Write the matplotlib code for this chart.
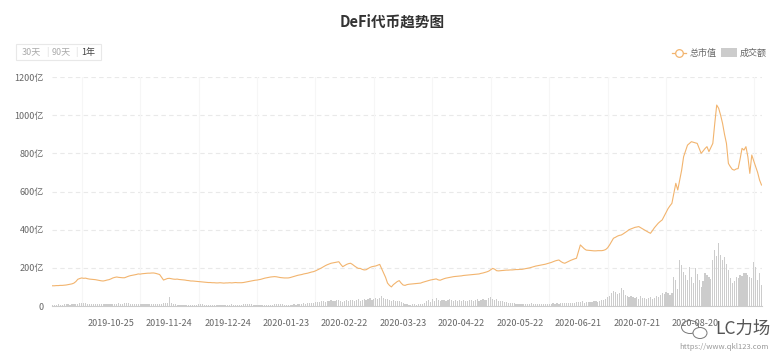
import numpy as np
import pandas as pd
import matplotlib
matplotlib.use("Agg")
import matplotlib.pyplot as plt
from matplotlib.lines import Line2D
from matplotlib.patches import Rectangle, FancyBboxPatch, Ellipse

plt.rcParams['font.family'] = ['Noto Sans CJK SC', 'DejaVu Sans']

# ---- data (亿) ----
start_date = "2019-09-25"

market_cap = [
    106, 106, 107, 107, 108, 108, 109, 110, 112, 114, 116, 120, 128, 140, 144,
    147, 145, 146, 143, 141, 140, 139, 138, 136, 134, 132, 131, 133, 136, 138,
    142, 147, 150, 152, 150, 149, 148, 148, 152, 156, 159, 161, 163, 165, 168,
    167, 169, 170, 171, 172, 172, 173, 173, 171, 168, 165, 150, 136, 140, 144,
    145, 143, 141, 140, 141, 139, 138, 137, 136, 134, 133, 131, 131, 130, 129,
    128, 127, 126, 125, 124, 123, 123, 122, 122, 121, 121, 122, 121, 120, 121,
    121, 122, 121, 122, 123, 122, 122, 122, 123, 125, 127, 129, 131, 133, 135,
    136, 138, 140, 143, 146, 148, 150, 152, 153, 154, 153, 151, 149, 148, 147,
    147, 147, 149, 152, 155, 158, 161, 163, 165, 168, 170, 172, 175, 178, 180,
    184, 189, 194, 199, 205, 211, 216, 220, 224, 226, 228, 230, 232, 218, 206,
    212, 218, 222, 224, 218, 210, 203, 197, 197, 192, 189, 190, 196, 202, 206,
    208, 210, 214, 218, 195, 172, 150, 120, 108, 100, 112, 120, 128, 133, 120,
    110, 108, 112, 114, 115, 116, 117, 118, 119, 120, 124, 127, 130, 133, 136,
    138, 140, 142, 137, 135, 139, 143, 146, 148, 150, 152, 154, 155, 156, 157,
    158, 160, 161, 162, 163, 164, 165, 166, 167, 168, 171, 173, 176, 179, 183,
    190, 197, 193, 185, 184, 185, 186, 187, 188, 188, 189, 189, 190, 191, 191,
    192, 192, 194, 196, 198, 200, 203, 206, 209, 211, 213, 215, 217, 219, 222,
    225, 228, 232, 236, 239, 241, 233, 227, 224, 229, 234, 239, 243, 247, 250,
    285, 320, 310, 300, 293, 292, 291, 290, 289, 289, 290, 290, 290, 292, 296,
    305, 320, 338, 355, 360, 366, 370, 372, 378, 385, 392, 400, 404, 408, 412,
    414, 416, 410, 404, 398, 392, 386, 381, 395, 410, 422, 434, 443, 451, 470,
    490, 510, 525, 538, 590, 643, 608, 660, 712, 782, 812, 843, 852, 861, 858,
    855, 852, 826, 800, 812, 825, 835, 809, 830, 852, 957, 1053, 1036, 1000, 957,
    900, 852, 747, 730, 716, 712, 718, 720, 770, 826, 817, 835, 782, 695, 791,
    760, 730, 700, 660, 634,
]

volume = [
    6, 7, 6, 8, 7, 6, 8, 9, 8, 7, 8, 9, 10, 12, 14,
    16, 18, 15, 13, 12, 10, 9, 8, 9, 10, 8, 9, 10, 11, 12,
    10, 9, 11, 12, 14, 13, 12, 15, 18, 14, 12, 11, 10, 12, 11,
    10, 9, 11, 10, 12, 11, 10, 9, 11, 12, 13, 12, 14, 16, 18,
    48, 14, 9, 8, 7, 6, 7, 6, 5, 6, 7, 6, 5, 6, 7,
    8, 9, 8, 7, 6, 6, 5, 5, 6, 5, 6, 7, 6, 5, 6,
    6, 7, 8, 7, 6, 5, 6, 7, 8, 9, 10, 9, 8, 7, 6,
    7, 6, 5, 6, 7, 6, 5, 6, 7, 8, 9, 10, 9, 8, 7,
    6, 5, 6, 7, 8, 7, 9, 10, 12, 14, 13, 15, 17, 16, 18,
    20, 22, 19, 24, 26, 21, 28, 25, 30, 27, 24, 29, 32, 28, 22,
    26, 30, 27, 33, 29, 25, 31, 35, 28, 34, 38, 30, 36, 42, 33,
    38, 44, 36, 40, 50, 41, 35, 39, 30, 27, 33, 26, 24, 28, 20,
    14, 10, 8, 7, 6, 8, 9, 7, 8, 10, 12, 18, 24, 30, 22,
    36, 28, 40, 32, 25, 30, 34, 27, 31, 36, 29, 26, 33, 28, 30,
    25, 31, 27, 24, 29, 33, 26, 30, 35, 28, 32, 37, 30, 34, 42,
    45, 38, 32, 36, 28, 26, 24, 22, 20, 18, 16, 15, 14, 12, 13,
    11, 12, 10, 13, 11, 12, 14, 12, 10, 11, 13, 12, 11, 10, 12,
    11, 13, 14, 12, 15, 13, 14, 16, 15, 17, 14, 16, 18, 17, 19,
    22, 20, 24, 18, 20, 22, 19, 21, 24, 26, 22, 28, 30, 34, 38,
    45, 52, 68, 80, 75, 62, 70, 94, 84, 56, 50, 45, 52, 48, 42,
    46, 38, 50, 44, 40, 36, 42, 48, 38, 44, 50, 46, 60, 68, 64,
    72, 70, 58, 66, 154, 136, 90, 241, 215, 180, 162, 136, 206, 154, 120,
    197, 170, 136, 101, 130, 175, 160, 154, 140, 241, 293, 260, 329, 267, 241,
    258, 220, 189, 145, 119, 130, 154, 148, 162, 155, 175, 171, 160, 154, 145,
    232, 206, 136, 171, 110,
]

tick_dates = ["2019-10-25", "2019-11-24", "2019-12-24", "2020-01-23", "2020-02-22",
              "2020-03-23", "2020-04-22", "2020-05-22", "2020-06-21", "2020-07-21",
              "2020-08-20"]
y_ticks = [0, 200, 400, 600, 800, 1000, 1200]

dates = pd.date_range(start_date, periods=len(market_cap), freq="D")

W, H = 784, 360
fig = plt.figure(figsize=(W / 100, H / 100), dpi=100)
ax = fig.add_axes([52 / W, 54 / H, 710 / W, 229 / H])

ax.bar(dates, volume, width=0.62, color="#cccccc", zorder=2)
ax.plot(dates, market_cap, color="#f2b46e", lw=0.8, zorder=3)

ax.set_ylim(0, 1200)
ax.set_xlim(dates[0] - pd.Timedelta(hours=6), dates[-1] + pd.Timedelta(hours=6))

ax.set_yticks(y_ticks)
ax.set_yticklabels([("0" if v == 0 else f"{v}亿") for v in y_ticks])
ax.set_xticks(pd.to_datetime(tick_dates))
ax.set_xticklabels(tick_dates)
ax.tick_params(axis="both", length=0, labelsize=6.5, colors="#666666")
ax.tick_params(axis="x", pad=9)
ax.tick_params(axis="y", pad=6)

# grid
for v in y_ticks[1:]:
    ax.axhline(v, color="#e9e9e9", lw=0.8, ls=(0, (4, 3)), zorder=0)
for td in pd.to_datetime(tick_dates):
    ax.axvline(td - pd.Timedelta(days=15), color="#f6f6f6", lw=0.8, zorder=0)
ax.axvline(pd.Timestamp("2020-09-19"), color="#f6f6f6", lw=0.8, zorder=0)

for s in ["top", "right", "left"]:
    ax.spines[s].set_visible(False)
ax.spines["bottom"].set_color("#cccccc")
ax.spines["bottom"].set_linewidth(0.8)


def fx(px):
    return px / W


def fy(py):
    return 1 - py / H


# title
fig.text(fx(392), fy(22), "DeFi代币趋势图", ha="center", va="center",
         fontsize=10.5, fontweight="bold", color="#333333")

# range buttons
fig.patches.append(FancyBboxPatch((fx(16), fy(60)), fx(85), 16 / H,
                                  boxstyle="square,pad=0", transform=fig.transFigure,
                                  fc="white", ec="#e8e8e8", lw=0.8))
btn_style = dict(ha="center", va="center", fontsize=6.5)
fig.text(fx(31), fy(52), "30天", color="#aaaaaa", **btn_style)
fig.text(fx(47), fy(52), "|", color="#dddddd", **btn_style)
fig.text(fx(61), fy(52), "90天", color="#aaaaaa", **btn_style)
fig.text(fx(76), fy(52), "|", color="#dddddd", **btn_style)
fig.text(fx(88), fy(52), "1年", color="#444444", **btn_style)

# legend
fig.add_artist(Line2D([fx(672), fx(686)], [fy(53), fy(53)], color="#f2b46e", lw=0.9,
                      transform=fig.transFigure))
fig.add_artist(Line2D([fx(679)], [fy(53)], marker="o", ms=5.5, mfc="white",
                      mec="#f2b46e", mew=0.9, transform=fig.transFigure))
fig.text(fx(690), fy(53), "总市值", ha="left", va="center", fontsize=6.5, color="#666666")
fig.patches.append(Rectangle((fx(721), fy(57)), fx(16), 9 / H, transform=fig.transFigure,
                             fc="#cccccc", ec="none"))
fig.text(fx(740), fy(53), "成交额", ha="left", va="center", fontsize=6.5, color="#666666")

# watermark
fig.patches.append(Ellipse((fx(690), fy(327)), 17 / W, 13 / H, transform=fig.transFigure,
                           fc="none", ec="#777777", lw=0.7))
fig.patches.append(Ellipse((fx(700), fy(333)), 14 / W, 11 / H, transform=fig.transFigure,
                           fc="white", ec="#777777", lw=0.7))
fig.text(fx(743), fy(329), "LC力场", ha="center", va="center", fontsize=12.5, color="#555555")
fig.text(fx(724), fy(347), "https://www.qkl123.com", ha="center", va="center",
         fontsize=5.5, color="#999999")

fig.savefig("out.png", dpi=100, facecolor="white")
